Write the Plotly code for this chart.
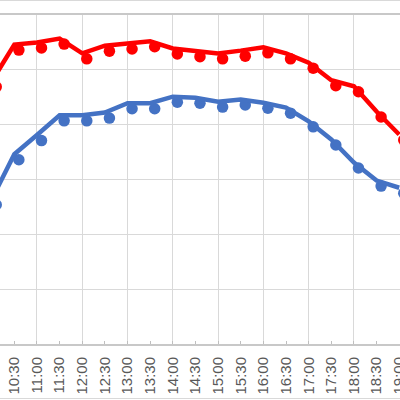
import plotly.graph_objects as go

times = ["10:00", "10:30", "11:00", "11:30", "12:00", "12:30", "13:00", "13:30",
         "14:00", "14:30", "15:00", "15:30", "16:00", "16:30", "17:00", "17:30",
         "18:00", "18:30", "19:00"]
full_hours = [t for t in times if t.endswith(":00")]

red_values = [47.9, 54.6, 55.0, 55.7, 53.0, 54.4, 54.8, 55.2, 53.9, 53.4,
              53.0, 53.5, 54.1, 53.0, 51.3, 48.1, 47.0, 42.4, 38.2]
blue_values = [26.4, 34.6, 38.1, 41.7, 41.7, 42.2, 43.9, 43.9, 45.1, 44.9,
               44.2, 44.6, 44.0, 43.1, 40.6, 37.3, 33.1, 29.8, 28.5]

RED = "#FF0000"
BLUE = "#4472C4"
GRID = "#D9D9D9"
TXT = "#595959"

x0, x1 = 0.367, 18.035
dx = 0.2   # marker offset in categories
dy = 1.0   # marker offset in value units

fig = go.Figure()
fig.add_trace(go.Scatter(x=times, y=red_values, mode="lines",
                         line=dict(color=RED, width=4.5),
                         xaxis="x", yaxis="y", showlegend=False, hoverinfo="skip"))
fig.add_trace(go.Scatter(x=times, y=blue_values, mode="lines",
                         line=dict(color=BLUE, width=4.5),
                         xaxis="x3", yaxis="y", showlegend=False, hoverinfo="skip"))
for vals, col in [(red_values, RED), (blue_values, BLUE)]:
    fig.add_trace(go.Scatter(x=times, y=vals, mode="markers",
                             marker=dict(color=col, size=11.5),
                             xaxis="x2", yaxis="y2", showlegend=False,
                             hoverinfo="skip"))

common_x = dict(type="category", categoryorder="array", categoryarray=times,
                automargin=False, zeroline=False)

fig.update_layout(
    width=400, height=400,
    margin=dict(l=0, r=0, t=15, b=56),
    paper_bgcolor="white", plot_bgcolor="white",
    xaxis=dict(**common_x, range=[x0, x1],
               tickvals=full_hours, showgrid=True, gridcolor=GRID, gridwidth=1,
               showticklabels=False, ticks="",
               showline=True, linecolor="#C8C8C8", linewidth=2, mirror=True),
    xaxis3=dict(**common_x, range=[x0, x1], overlaying="x", anchor="y",
                tickvals=times, ticktext=times, showgrid=False,
                ticks="inside", ticklen=3, tickcolor="#BFBFBF",
                tickangle=-90, ticklabelstandoff=9,
                tickfont=dict(family="Liberation Sans", size=15, color=TXT)),
    xaxis2=dict(**common_x, range=[x0 - dx, x1 - dx], overlaying="x",
                anchor="y2", visible=False),
    yaxis=dict(range=[0, 60], dtick=10, showgrid=True, gridcolor=GRID,
               showticklabels=False, ticks="", zeroline=False, automargin=False),
    yaxis2=dict(range=[0 + dy, 60 + dy], overlaying="y", anchor="x2",
                visible=False, automargin=False),
    shapes=[
        dict(type="line", xref="paper", yref="paper", x0=0, x1=1,
             y0=(344 - 0.5) / 329, y1=(344 - 0.5) / 329,
             line=dict(color=GRID, width=1)),
        dict(type="line", xref="paper", yref="paper", x0=0, x1=1,
             y0=-(398.5 - 344) / 329, y1=-(398.5 - 344) / 329,
             line=dict(color=GRID, width=1)),
    ],
)

fig.write_html("out.html", config={"displayModeBar": False, "staticPlot": True},
               post_script="document.body.style.margin='0';document.body.style.overflow='hidden';")
